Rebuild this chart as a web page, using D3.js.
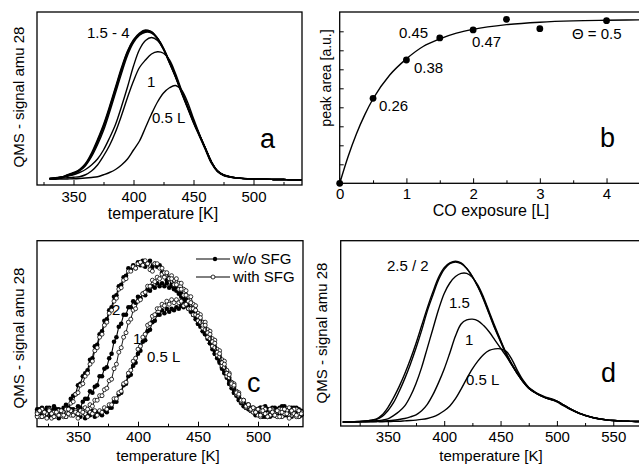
<!DOCTYPE html>
<html>
<head>
<meta charset="utf-8">
<script src="https://cdn.jsdelivr.net/npm/d3@7"></script>
<style>
  body { margin: 0; background: #fff; }
</style>
</head>
<body>
<script>
// ---- panel a : TPD traces, temperatures [K] and signal (peak of 4 L = 1)
var tempA = [330,335,340,345,350,355,360,365,370,375,380,385,390,395,400,405,410,415,420,425,
             430,435,440,445,450,455,460,465,470,475,480,485,490,495,500,505,510,515,520,525,530,535,540];
var a4  = [.01,.015,.02,.035,.05,.07,.11,.18,.27,.37,.49,.62,.75,.86,.935,.98,1.0,.985,.94,.87,
           .78,.685,.58,.48,.38,.29,.2,.11,.055,.03,.02,.014,.01,.008,.007,.006,.005,.004,.003,.003,.002,.002,.002];
var a3  = [.008,.012,.02,.03,.045,.068,.105,.17,.26,.36,.48,.61,.74,.855,.93,.975,.995,.99,.945,.875,
           .785,.69,.585,.485,.385,.295,.205,.115,.058,.032,.021,.015,.011,.009,.007,.006,.005,.004,.003,.003,.002,.002,.002];
var a25 = [.01,.014,.018,.03,.045,.065,.1,.165,.25,.35,.47,.6,.73,.845,.925,.97,.99,.985,.945,.875,
           .79,.695,.59,.49,.39,.3,.21,.12,.06,.033,.021,.015,.011,.008,.007,.006,.005,.004,.003,.003,.002,.002,.002];
var a2  = [.008,.012,.018,.028,.04,.06,.095,.155,.235,.33,.45,.58,.71,.83,.915,.965,.985,.98,.945,.88,
           .79,.695,.59,.49,.39,.3,.21,.12,.06,.033,.021,.015,.011,.008,.007,.006,.005,.004,.003,.003,.002,.002,.002];
var a15 = [.01,.012,.016,.025,.035,.05,.07,.1,.14,.2,.28,.37,.49,.62,.76,.87,.93,.95,.93,.87,
           .78,.69,.59,.49,.39,.3,.21,.12,.06,.034,.022,.015,.011,.008,.007,.006,.005,.004,.003,.003,.002,.002,.002];
var a1  = [.008,.01,.012,.015,.018,.022,.035,.06,.1,.16,.23,.32,.43,.55,.66,.75,.8,.84,.855,.845,
           .8,.71,.6,.495,.395,.3,.21,.12,.06,.034,.022,.015,.011,.008,.007,.006,.005,.004,.003,.003,.002,.002,.002];
var a05 = [.005,.005,.006,.007,.008,.01,.013,.017,.022,.035,.05,.07,.1,.14,.2,.26,.35,.44,.52,.58,
           .615,.63,.6,.52,.41,.305,.21,.118,.062,.036,.023,.015,.011,.008,.007,.006,.005,.004,.003,.003,.002,.002,.002];

// ---- panel b : peak area vs CO exposure
var exposure = [0, 0.5, 1, 1.5, 2, 2.5, 3, 4];
var peakArea = [0, 4.47, 6.49, 7.65, 8.07, 8.63, 8.14, 8.56];
var fitExposure = [0, 0.125, 0.25, 0.375, 0.5, 0.75, 1, 1.25, 1.5, 1.75, 2, 2.5, 3, 3.5, 4, 4.5];
var fitArea = [0, 1.4, 2.6, 3.6, 4.45, 5.7, 6.55, 7.2, 7.6, 7.9, 8.1, 8.35, 8.48, 8.55, 8.58, 8.6];
var coverage = [
  {t: "0.26", e: 0.5}, {t: "0.38", e: 1}, {t: "0.45", e: 1.5}, {t: "0.47", e: 2}, {t: "\u0398 = 0.5", e: 4}
];

// ---- panel c : noisy traces, w/o SFG (filled) and with SFG (open)
var tempC = [316,318,320,322,324,326,328,330,332,334,
             336,338,340,342,344,346,348,350,352,354,
             356,358,360,362,364,366,368,370,372,374,
             376,378,380,382,384,386,388,390,392,394,
             396,398,400,402,404,406,408,410,412,414,
             416,418,420,422,424,426,428,430,432,434,
             436,438,440,442,444,446,448,450,452,454,
             456,458,460,462,464,466,468,470,472,474,
             476,478,480,482,484,486,488,490,492,494,
             496,498,500,502,504,506,508,510,512,514,
             516,518,520,522,524,526,528,530,532,534,536];
var c2 = [0.02,-0.01,0.04,0.01,0.03,-0.02,0.02,0.05,0.0,0.03,
          0.01,0.04,0.06,0.04,0.1,0.12,0.13,0.19,0.2,0.25,
          0.27,0.29,0.36,0.37,0.45,0.46,0.53,0.55,0.62,0.63,
          0.69,0.71,0.78,0.79,0.85,0.86,0.91,0.92,0.97,0.96,
          0.99,0.97,1.01,0.99,1.02,0.98,1.0,1.02,0.98,1.0,
          0.98,0.99,0.94,0.93,0.89,0.9,0.85,0.86,0.82,0.83,
          0.8,0.75,0.76,0.71,0.7,0.66,0.65,0.6,0.6,0.55,
          0.55,0.5,0.49,0.43,0.42,0.37,0.36,0.3,0.29,0.24,
          0.22,0.17,0.16,0.12,0.11,0.07,0.08,0.04,0.06,0.02,
          0.04,0.0,0.03,-0.01,0.02,0.05,0.01,-0.02,0.03,0.0,
          0.02,0.04,-0.01,0.03,0.01,-0.02,0.04,0.02,0.0,0.03,-0.01];
var c1 = [-0.01,0.03,0.0,0.02,-0.02,0.04,0.01,-0.01,0.03,0.0,
          0.02,-0.01,0.03,0.01,0.0,0.03,0.02,0.05,0.04,0.08,
          0.1,0.1,0.15,0.14,0.18,0.19,0.25,0.25,0.3,0.31,
          0.37,0.4,0.48,0.51,0.58,0.6,0.66,0.66,0.71,0.71,
          0.75,0.74,0.78,0.77,0.8,0.79,0.83,0.82,0.85,0.84,
          0.87,0.85,0.87,0.85,0.87,0.84,0.86,0.83,0.84,0.8,
          0.78,0.77,0.73,0.73,0.68,0.68,0.63,0.62,0.58,0.57,
          0.53,0.52,0.47,0.45,0.4,0.39,0.34,0.32,0.27,0.26,
          0.2,0.19,0.14,0.14,0.09,0.09,0.05,0.06,0.03,0.04,
          0.01,0.03,0.0,0.04,-0.02,0.02,0.03,0.0,0.04,-0.01,
          0.03,0.0,0.02,0.05,-0.01,0.02,0.0,0.04,0.01,-0.02,0.02];
var c05 = [0.03,0.0,-0.02,0.02,0.04,0.0,-0.01,0.03,0.01,-0.03,
           0.02,0.0,-0.02,0.01,0.03,-0.01,0.0,0.02,-0.02,0.01,
           -0.03,0.0,-0.01,0.02,-0.02,0.01,0.0,-0.01,0.02,0.01,
           0.04,0.04,0.08,0.08,0.13,0.14,0.19,0.2,0.25,0.26,
           0.32,0.34,0.4,0.42,0.48,0.49,0.55,0.56,0.61,0.62,
           0.66,0.66,0.69,0.67,0.7,0.68,0.7,0.69,0.71,0.7,
           0.72,0.71,0.73,0.7,0.7,0.66,0.65,0.6,0.6,0.55,
           0.53,0.52,0.47,0.45,0.4,0.38,0.35,0.31,0.28,0.26,
           0.2,0.19,0.14,0.13,0.1,0.08,0.07,0.04,0.05,0.02,
           0.03,-0.01,0.02,0.04,0.0,-0.02,0.03,0.01,-0.01,0.04,
           0.0,0.02,0.05,-0.01,0.01,0.03,-0.02,0.02,0.04,0.0,-0.01];
var o2 = [0.0,0.02,-0.02,0.01,-0.03,0.02,0.0,-0.02,0.01,-0.01,
          0.02,-0.01,0.03,0.03,0.07,0.08,0.13,0.14,0.19,0.2,
          0.25,0.27,0.33,0.35,0.42,0.44,0.51,0.53,0.59,0.61,
          0.67,0.69,0.75,0.77,0.83,0.84,0.89,0.9,0.95,0.95,
          0.98,0.97,1.0,1.01,0.99,1.02,1.0,0.96,0.95,1.0,
          1.0,0.97,0.97,0.94,0.94,0.9,0.9,0.86,0.86,0.83,
          0.83,0.79,0.79,0.75,0.74,0.7,0.69,0.65,0.64,0.59,
          0.59,0.54,0.53,0.48,0.47,0.41,0.4,0.34,0.33,0.27,
          0.26,0.2,0.19,0.14,0.13,0.09,0.09,0.05,0.06,0.03,
          0.04,0.01,0.03,-0.01,0.02,0.0,-0.02,0.03,0.01,-0.01,
          0.02,-0.02,0.01,0.03,0.0,-0.03,0.02,0.0,-0.01,0.02,0.0];
var o1 = [-0.02,0.01,0.03,-0.01,0.0,0.02,-0.03,0.01,0.0,0.02,
          -0.01,0.01,-0.02,0.0,0.02,-0.01,0.01,0.0,0.02,0.01,
          0.04,0.03,0.06,0.05,0.09,0.09,0.12,0.12,0.16,0.17,
          0.22,0.23,0.3,0.33,0.41,0.44,0.51,0.54,0.61,0.63,
          0.69,0.7,0.75,0.76,0.8,0.81,0.85,0.85,0.89,0.88,
          0.91,0.9,0.93,0.91,0.93,0.9,0.92,0.89,0.9,0.87,
          0.87,0.83,0.82,0.78,0.78,0.73,0.72,0.67,0.66,0.61,
          0.61,0.56,0.55,0.5,0.49,0.43,0.42,0.36,0.35,0.29,
          0.27,0.21,0.2,0.15,0.14,0.09,0.09,0.05,0.06,0.03,
          0.03,0.01,0.03,-0.02,0.01,0.03,0.0,-0.01,0.02,0.0,
          -0.02,0.01,0.03,0.0,0.02,-0.01,0.01,0.03,-0.02,0.0,0.01];
var o05 = [0.01,-0.02,0.02,0.0,-0.01,0.03,0.01,-0.02,0.0,0.02,
           0.0,-0.02,0.01,0.03,-0.01,0.0,0.02,-0.03,0.0,0.02,
           0.0,-0.02,0.01,0.0,0.02,-0.01,0.02,0.01,0.04,0.03,
           0.06,0.06,0.1,0.1,0.14,0.15,0.2,0.21,0.27,0.29,
           0.35,0.37,0.43,0.45,0.51,0.53,0.59,0.6,0.65,0.66,
           0.7,0.7,0.73,0.72,0.75,0.73,0.76,0.74,0.76,0.74,
           0.75,0.72,0.73,0.7,0.7,0.66,0.66,0.62,0.61,0.57,
           0.56,0.51,0.5,0.45,0.44,0.39,0.38,0.32,0.31,0.25,
           0.24,0.19,0.18,0.13,0.12,0.08,0.08,0.04,0.05,0.02,
           0.01,0.03,-0.01,0.02,0.04,0.0,-0.02,0.02,0.03,-0.01,
           0.01,0.03,-0.02,0.0,0.02,0.04,-0.01,0.01,0.03,-0.02,0.01];

// ---- panel d : TPD traces
var tempD = [310,315,320,325,330,335,340,345,350,355,360,365,370,375,380,385,390,395,400,405,
             410,415,420,425,430,435,440,445,450,455,460,465,470,475,480,485,490,495,500,505,
             510,515,520,525,530,535,540,545,550,555,560,565,570,575];
var d25 = [0,0,.002,.004,.007,.012,.02,.045,.09,.15,.22,.3,.39,.49,.6,.71,.81,.9,.96,.99,
           1.0,.99,.955,.905,.84,.76,.67,.58,.5,.42,.355,.3,.25,.21,.185,.165,.15,.14,.125,.105,
           .085,.068,.052,.04,.03,.022,.016,.012,.009,.007,.005,.004,.003,.003];
var d2  = [0,0,.002,.004,.006,.01,.016,.035,.07,.12,.19,.27,.36,.46,.57,.69,.79,.885,.95,.985,
           .995,.985,.955,.905,.84,.765,.675,.585,.505,.425,.36,.305,.255,.215,.19,.17,.155,.145,.13,.11,
           .09,.07,.054,.041,.031,.023,.017,.012,.009,.007,.005,.004,.003,.003];
var d15 = [0,0,.001,.002,.003,.005,.008,.012,.02,.04,.065,.1,.16,.24,.34,.46,.58,.7,.8,.865,
           .905,.925,.925,.9,.85,.775,.685,.595,.51,.43,.36,.3,.25,.21,.185,.165,.15,.14,.128,.108,
           .088,.07,.054,.041,.031,.023,.017,.012,.009,.007,.005,.004,.003,.003];
var d1  = [0,0,0,.001,.002,.003,.004,.006,.008,.011,.016,.022,.032,.045,.07,.11,.17,.245,.33,.43,
           .535,.61,.635,.64,.63,.6,.56,.51,.46,.41,.355,.3,.25,.21,.185,.165,.15,.14,.128,.108,
           .088,.07,.054,.041,.031,.023,.017,.012,.009,.007,.005,.004,.003,.003];
var d05 = [0,0,0,0,.001,.001,.002,.002,.003,.004,.005,.007,.009,.012,.016,.022,.032,.048,.07,.1,
           .145,.205,.27,.33,.38,.42,.445,.455,.455,.44,.39,.32,.26,.215,.188,.167,.152,.142,.13,.11,
           .09,.071,.055,.042,.032,.024,.018,.013,.01,.007,.005,.004,.003,.003];

var tempTicks = [350, 400, 450, 500];
var tempMinor = [325, 375, 425, 475, 525];

var font = '"Liberation Sans", Arial, Helvetica, sans-serif';

var svg = d3.select("body")
  .append("svg")
    .attr("width", 639)
    .attr("height", 464)
    .style("background", "#fff");

function frame(x0, y0, x1, y1) {
  svg.append("rect")
    .attr("x", x0).attr("y", y0)
    .attr("width", x1 - x0).attr("height", y1 - y0)
    .attr("fill", "none")
    .attr("stroke", "#000")
    .attr("stroke-width", 1.3);
}

function xAxis(x, ypos, major, minor, pad) {
  var gm = svg.append("g")
    .attr("transform", "translate(0," + ypos + ")")
    .call(d3.axisBottom(x).tickValues(minor).tickSize(-3).tickFormat(""));
  gm.select(".domain").remove();
  var g = svg.append("g")
    .attr("transform", "translate(0," + ypos + ")")
    .call(d3.axisBottom(x).tickValues(major).tickSize(-5).tickPadding(pad).tickFormat(d3.format("d")));
  g.select(".domain").remove();
  g.selectAll("text")
    .style("font-family", font)
    .style("font-size", "15px")
    .attr("fill", "#000");
}

function label(txt, x, y, size, anchor) {
  return svg.append("text")
    .attr("x", x).attr("y", y)
    .attr("text-anchor", anchor || "start")
    .style("font-family", font)
    .style("font-size", size + "px")
    .text(txt);
}

function yLabel(txt, x, y, size) {
  svg.append("text")
    .attr("transform", "translate(" + x + "," + y + ") rotate(-90)")
    .attr("text-anchor", "middle")
    .style("font-family", font)
    .style("font-size", size + "px")
    .text(txt);
}

function trace(temps, vals, x, y, curve, w) {
  var line = d3.line()
    .x(function(d, i) { return x(temps[i]); })
    .y(function(d) { return y(d); })
    .curve(curve);
  svg.append("path")
    .datum(vals)
    .attr("d", line)
    .attr("fill", "none")
    .attr("stroke", "#000")
    .attr("stroke-width", w);
}

// ================= panel a
var xA = d3.scaleLinear().domain([300, 550]).range([13.5, 313.5]);
var yA = d3.scaleLinear().domain([0, 1]).range([180, 30]);
frame(37, 12, 302, 185);
xAxis(xA, 185, tempTicks, tempMinor, 6);
[a05, a1, a15, a2, a25, a3, a4].forEach(function(s) {
  trace(tempA, s, xA, yA, d3.curveCatmullRom, 1.4);
});
yLabel("QMS - signal amu 28", 24, 97, 15);
label("temperature [K]", 163, 219, 16, "middle");
label("1.5 - 4", 87, 38, 15);
label("1", 147, 87, 15);
label("0.5 L", 152, 123, 15);
label("a", 260, 148, 27);

// ================= panel b
var xB = d3.scaleLinear().domain([0, 4.5]).range([339.7, 639.9]);
var yB = d3.scaleLinear().domain([0, 9]).range([183.3, 12.3]);
frame(339.7, 12, 646, 183.3);
xAxis(xB, 183.3, [0, 1, 2, 3, 4], [0.5, 1.5, 2.5, 3.5], 5);
var gy = svg.append("g")
  .attr("transform", "translate(339.7,0)")
  .call(d3.axisLeft(yB).tickValues([1, 2, 3, 4, 5, 6, 7, 8]).tickSize(-4).tickFormat(""));
gy.select(".domain").remove();

trace(fitExposure, fitArea, xB, yB, d3.curveMonotoneX, 1.4);
svg.selectAll("circle.pb")
  .data(exposure)
  .enter()
  .append("circle")
    .attr("class", "pb")
    .attr("cx", function(d) { return xB(d); })
    .attr("cy", function(d, i) { return yB(peakArea[i]); })
    .attr("r", 3.4)
    .attr("fill", "#000");

var covPos = {"0.26": [379, 111], "0.38": [414, 73], "0.45": [399, 38], "0.47": [472, 47], "\u0398 = 0.5": [572, 39]};
coverage.forEach(function(c) {
  label(c.t, covPos[c.t][0], covPos[c.t][1], 15);
});
yLabel("peak area [a.u.]", 331, 78, 14);
label("CO exposure [L]", 491, 216, 16, "middle");
label("b", 600, 147, 27);

// ================= panel c
var xC = d3.scaleLinear().domain([300, 550]).range([18, 318]);
var yC = d3.scaleLinear().domain([0, 1]).range([413.7, 263.7]);
frame(37, 240.7, 303, 426.7);
xAxis(xC, 426.7, tempTicks, tempMinor, 5);

var withoutSFG = [c05, c1, c2];
var withSFG = [o05, o1, o2];

withoutSFG.forEach(function(s) {
  trace(tempC, s, xC, yC, d3.curveLinear, 1.1);
  svg.append("g").selectAll("circle")
    .data(s)
    .enter()
    .append("circle")
      .attr("cx", function(d, i) { return xC(tempC[i]); })
      .attr("cy", function(d) { return yC(d); })
      .attr("r", 2.3)
      .attr("fill", "#000");
});
withSFG.forEach(function(s) {
  trace(tempC, s, xC, yC, d3.curveLinear, 0.9);
  svg.append("g").selectAll("circle")
    .data(s)
    .enter()
    .append("circle")
      .attr("cx", function(d, i) { return xC(tempC[i]); })
      .attr("cy", function(d) { return yC(d); })
      .attr("r", 2)
      .attr("fill", "#fff")
      .attr("stroke", "#000")
      .attr("stroke-width", 0.8);
});

// legend
svg.append("line").attr("x1", 196).attr("x2", 230).attr("y1", 259).attr("y2", 259)
  .attr("stroke", "#000").attr("stroke-width", 1.2);
svg.append("circle").attr("cx", 215).attr("cy", 259).attr("r", 2.2).attr("fill", "#000");
svg.append("line").attr("x1", 196).attr("x2", 230).attr("y1", 277).attr("y2", 277)
  .attr("stroke", "#000").attr("stroke-width", 1);
svg.append("circle").attr("cx", 213).attr("cy", 277).attr("r", 2).attr("fill", "#fff")
  .attr("stroke", "#000").attr("stroke-width", 0.8);
label("w/o SFG", 233, 264, 15);
label("with SFG", 233, 282, 15);

yLabel("QMS - signal amu 28", 24, 338, 15);
label("temperature [K]", 168, 461, 15, "middle");
label("2", 112, 315, 15);
label("1", 133, 344, 15);
label("0.5 L", 147, 362, 15);
label("c", 247, 392, 27);

// ================= panel d
var xD = d3.scaleLinear().domain([300, 600]).range([331.5, 669.6]);
var yD = d3.scaleLinear().domain([0, 1]).range([422, 261.3]);
frame(340.7, 240.7, 646, 426);
xAxis(xD, 426, [350, 400, 450, 500, 550], [325, 375, 425, 475, 525, 575], 5);
[d05, d1, d15, d2, d25].forEach(function(s) {
  trace(tempD, s, xD, yD, d3.curveCatmullRom, 1.4);
});
yLabel("QMS - signal amu 28", 327, 333, 15);
label("temperature [K]", 491, 461, 15, "middle");
label("2.5 / 2", 387, 271, 15);
label("1.5", 449, 308, 15);
label("1", 465, 345, 15);
label("0.5 L", 466, 385, 15);
label("d", 601, 382, 27);
</script>
</body>
</html>
